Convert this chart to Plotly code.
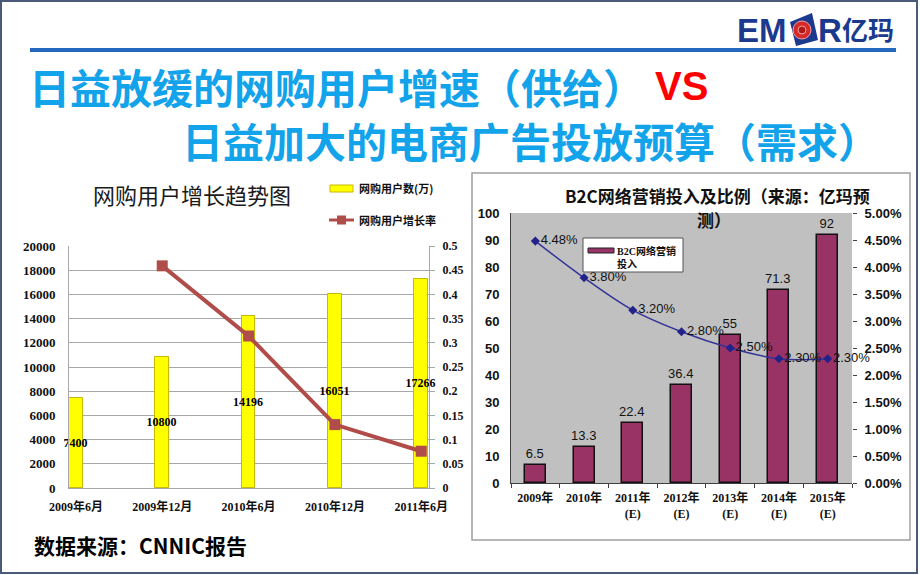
import plotly.graph_objects as go

W, H = 920, 575


def px(x):
    return x / W


def py(y):
    return 1 - y / H


# ---------------- data ----------------
# left chart: online shopping users (10k) and growth rate
periods = ["2009年6月", "2009年12月", "2010年6月", "2010年12月", "2011年6月"]
users = [7400, 10800, 14196, 16051, 17266]
growth = [None, 0.459, 0.314, 0.131, 0.076]

# right chart: B2C online marketing spend and share
years = ["2009年", "2010年", "2011年<br>(E)", "2012年<br>(E)", "2013年<br>(E)",
         "2014年<br>(E)", "2015年<br>(E)"]
spend = [6.5, 13.3, 22.4, 36.4, 55, 71.3, 92]
share = [0.0448, 0.038, 0.032, 0.028, 0.025, 0.023, 0.023]
share_labels = ["4.48%", "3.80%", "3.20%", "2.80%", "2.50%", "2.30%", "2.30%"]

CJK = "Noto Sans CJK SC"
SERIF = "Liberation Serif, Noto Sans CJK SC"
SANS = "Liberation Sans, Noto Sans CJK SC"

fig = go.Figure()

# ---------------- left chart ----------------
fig.add_trace(go.Bar(
    x=periods, y=users, xaxis="x", yaxis="y",
    marker=dict(color="#FFFF00", line=dict(color="#C9B800", width=1)),
    width=0.16,
    text=[str(v) for v in users], textposition="inside",
    insidetextanchor="middle", textangle=0, constraintext="none",
    cliponaxis=False,
    insidetextfont=dict(family=SERIF, size=12, color="#000000", weight="bold"),
    hoverinfo="skip",
))
fig.add_trace(go.Scatter(
    x=periods, y=growth, xaxis="x", yaxis="y3",
    mode="lines+markers",
    line=dict(color="#B04C4A", width=4),
    marker=dict(symbol="square", size=11, color="#B04C4A"),
    hoverinfo="skip",
))

# ---------------- right chart ----------------
fig.add_trace(go.Bar(
    x=years, y=spend, xaxis="x2", yaxis="y2",
    marker=dict(color="#993366", line=dict(color="#111111", width=1.5)),
    width=0.43,
    text=[str(v) for v in spend], textposition="outside",
    textangle=0, constraintext="none", cliponaxis=False,
    outsidetextfont=dict(family=SANS, size=13, color="#111111"),
    hoverinfo="skip",
))
fig.add_trace(go.Scatter(
    x=years, y=share, xaxis="x2", yaxis="y4",
    mode="lines+markers+text",
    line=dict(color="#333399", width=1.5, shape="spline"),
    marker=dict(symbol="diamond", size=7, color="#22228A"),
    text=share_labels, textposition="middle right",
    textfont=dict(family=SANS, size=13, color="#111111"),
    cliponaxis=False,
    hoverinfo="skip",
))

grid = "#A8A8A8"
fig.update_layout(
    width=W, height=H,
    margin=dict(l=0, r=0, t=0, b=0, autoexpand=False),
    paper_bgcolor="white", plot_bgcolor="rgba(0,0,0,0)",
    showlegend=False,
    bargap=0,
    xaxis=dict(
        domain=[px(69), px(429)], anchor="y", type="category", automargin=False,
        range=[-0.08, 4.09], showgrid=False, zeroline=False,
        showline=True, linecolor=grid, linewidth=1, ticks="",
        tickfont=dict(family=SERIF, size=12, color="#111111", weight="bold"),
        ticklabelstandoff=8,
    ),
    yaxis=dict(
        domain=[py(488), py(246)], anchor="x", automargin=False,
        range=[0, 20000], dtick=2000, tickformat="d",
        showgrid=True, gridcolor=grid, gridwidth=1, zeroline=False,
        showline=True, linecolor=grid, linewidth=1, ticks="",
        tickfont=dict(family=SERIF, size=13, color="#111111", weight="bold"),
        ticklabelstandoff=10,
    ),
    yaxis3=dict(
        overlaying="y", side="right", anchor="x", automargin=False,
        range=[0, 0.5], dtick=0.05, showgrid=False, zeroline=False,
        showline=True, linecolor=grid, linewidth=1,
        ticks="outside", ticklen=5, tickcolor=grid,
        tickfont=dict(family=SERIF, size=12, color="#111111", weight="bold"),
        ticklabelstandoff=5,
    ),
    xaxis2=dict(
        domain=[px(511), px(852)], anchor="y2", type="category", automargin=False,
        range=[-0.5, 6.5], showgrid=False, zeroline=False,
        showline=True, linecolor="#404040", linewidth=1,
        ticks="outside", tickson="boundaries", ticklen=4, tickcolor="#404040",
        tickfont=dict(family=SERIF, size=12, color="#111111", weight="bold"),
        ticklabelstandoff=4,
    ),
    yaxis2=dict(
        domain=[py(483), py(213)], anchor="x2", automargin=False,
        range=[0, 100], dtick=10, showgrid=False, zeroline=False,
        showline=True, linecolor="#404040", linewidth=1, ticks="",
        tickfont=dict(family=SANS, size=13, color="#111111", weight="bold"),
        ticklabelstandoff=8,
    ),
    yaxis4=dict(
        overlaying="y2", side="right", anchor="x2", automargin=False,
        range=[0, 0.05], dtick=0.005, tickformat=".2%",
        showgrid=False, zeroline=False, showline=False,
        ticks="outside", ticklen=4, tickcolor="#404040",
        tickfont=dict(family=SANS, size=13, color="#111111", weight="bold"),
        ticklabelstandoff=5,
    ),
)

shapes = []
# slide border
shapes.append(dict(type="rect", xref="paper", yref="paper", x0=px(1), x1=px(917),
                   y0=py(573), y1=py(1), line=dict(color="#4A5A78", width=2),
                   layer="above"))
# header rule
shapes.append(dict(type="line", xref="paper", yref="paper", x0=px(30), x1=px(896),
                   y0=py(50), y1=py(50), line=dict(color="#2368BE", width=4)))
# right chart frame
shapes.append(dict(type="rect", xref="paper", yref="paper", x0=px(472), x1=px(910),
                   y0=py(540), y1=py(173), line=dict(color="#A0A0A0", width=1.5),
                   fillcolor="white", layer="below"))
# right chart gray plot area
shapes.append(dict(type="rect", xref="x2 domain", yref="y2 domain", x0=0, x1=1,
                   y0=0, y1=1, fillcolor="#C0C0C0", line=dict(width=0),
                   layer="below"))
# left legend swatches
shapes.append(dict(type="rect", xref="paper", yref="paper", x0=px(330), x1=px(353),
                   y0=py(192), y1=py(185), fillcolor="#FFFF00",
                   line=dict(color="#C9B800", width=1)))
shapes.append(dict(type="line", xref="paper", yref="paper", x0=px(329), x1=px(354),
                   y0=py(220), y1=py(220), line=dict(color="#B04C4A", width=3)))
shapes.append(dict(type="rect", xref="paper", yref="paper", x0=px(337), x1=px(346),
                   y0=py(224.5), y1=py(215.5), fillcolor="#B04C4A",
                   line=dict(width=0)))
# right legend box and swatch
shapes.append(dict(type="rect", xref="paper", yref="paper", x0=px(583), x1=px(683),
                   y0=py(272), y1=py(238), fillcolor="white",
                   line=dict(color="#555555", width=1)))
shapes.append(dict(type="rect", xref="paper", yref="paper", x0=px(588), x1=px(614),
                   y0=py(253), y1=py(248), fillcolor="#993366",
                   line=dict(color="#222222", width=1)))
# logo icon
shapes.append(dict(type="path", xref="paper", yref="paper",
                   path=f"M {px(790)},{py(22)} L {px(812)},{py(13)} L {px(818)},{py(40)} "
                        f"L {px(796)},{py(46)} Z",
                   fillcolor="#1B3A8E", line=dict(width=0)))
shapes.append(dict(type="circle", xref="paper", yref="paper", x0=px(793), x1=px(811),
                   y0=py(39), y1=py(21), fillcolor="#D62A2A",
                   line=dict(color="#F4A0A0", width=1)))
shapes.append(dict(type="circle", xref="paper", yref="paper", x0=px(798), x1=px(806),
                   y0=py(34), y1=py(26), fillcolor="#B01818",
                   line=dict(color="#F4A0A0", width=1)))
fig.update_layout(shapes=shapes)

ann = []


def text(x, y, s, size, color="#111111", family=CJK, weight="normal",
         xanchor="left", yanchor="middle", align="left"):
    ann.append(dict(x=px(x), y=py(y), xref="paper", yref="paper", text=s,
                    showarrow=False, xanchor=xanchor, yanchor=yanchor, align=align,
                    font=dict(family=family, size=size, color=color, weight=weight)))


TITLE_BLUE = "#12A3EA"
text(27, 86, "日益放缓的网购用户增速（供给）", 41, TITLE_BLUE, weight="bold")
text(653, 86, "VS", 40, "#FF0000", family="Liberation Sans", weight="bold")
text(180, 140, "日益加大的电商广告投放预算（需求）", 41, TITLE_BLUE, weight="bold")

# logo text
text(789, 30, "EM", 33, "#1B3A8E", family="Liberation Sans", weight="bold",
     xanchor="right")
text(816, 30, "R", 33, "#1B3A8E", family="Liberation Sans", weight="bold")
text(840, 29, "亿玛", 26, "#1B3A8E", weight="bold")

# left chart title and legend
text(192, 194, "网购用户增长趋势图", 22, "#1a1a1a", xanchor="center")
text(357, 188, "网购用户数(万)", 11, "#111111", weight="bold")
text(357, 220, "网购用户增长率", 11, "#111111", weight="bold")

# right chart title (two lines) and legend
text(717, 195, "B2C网络营销投入及比例（来源：亿玛预", 17, "#111111",
     weight="bold", xanchor="center")
text(714, 219.5, "测）", 17, "#111111", weight="bold", xanchor="center")
text(615, 251, "B2C网络营销", 10, "#111111", family=SERIF, weight="bold")
text(615, 264, "投入", 10, "#111111", weight="bold")

# source
text(32, 545, "数据来源：CNNIC报告", 21, "#000000", weight="bold")

fig.update_layout(annotations=ann)

fig.write_html("out.html",
               config={"displayModeBar": False},
               post_script="document.body.style.margin='0';"
                           "document.body.style.overflow='hidden';")
